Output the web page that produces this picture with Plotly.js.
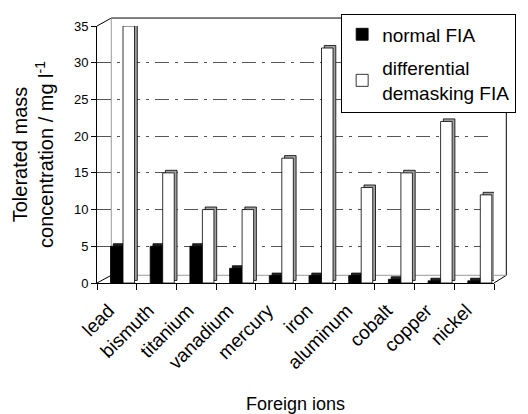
<!DOCTYPE html>
<html>
<head>
<meta charset="utf-8">
<script src="https://cdn.plot.ly/plotly-3.0.1.min.js"></script>
<style>html,body{margin:0;padding:0;background:#fff}#chart{width:528px;height:414px}</style>
</head>
<body>
<div id="chart"></div>
<script>
var ions = ["lead","bismuth","titanium","vanadium","mercury","iron","aluminum","cobalt","copper","nickel"];
var normalFIA = [5, 5, 5, 2, 1, 1, 1, 0.5, 0.3, 0.3];
var differentialFIA = [35, 15, 10, 10, 17, 32, 13, 15, 22, 12];
var yTicks = [0, 5, 10, 15, 20, 25, 30, 35];

var FONT = "Liberation Sans, Arial, sans-serif";
var depth = 0.35; // vertical 3D offset in data units

var traces = [
  {type:"bar", x:ions, y:normalFIA, base:depth, offset:-0.09, width:0.315,
   marker:{color:"#222", line:{color:"#000", width:0.8}}, showlegend:false, hoverinfo:"skip"},
  {type:"bar", name:"normal FIA", legendgroup:"a", x:ions, y:normalFIA, offset:-0.16, width:0.315,
   marker:{color:"#000", line:{color:"#000", width:0.8}}},
  {type:"bar", x:ions, y:differentialFIA, base:depth, offset:0.225, width:0.29,
   marker:{color:"#a0a0a0", line:{color:"#000", width:0.8}}, showlegend:false, hoverinfo:"skip"},
  {type:"bar", name:"differential<br>demasking FIA", legendgroup:"b", x:ions, y:differentialFIA, offset:0.155, width:0.29,
   marker:{color:"#fff", line:{color:"#000", width:0.8}}}
];

var L = {color:"#000", width:1};
var layout = {
  width:528, height:414,
  margin:{l:97, r:18, t:26, b:131},
  paper_bgcolor:"#fff", plot_bgcolor:"rgba(0,0,0,0)",
  barmode:"overlay",
  font:{family:FONT, color:"#000"},
  xaxis:{
    type:"category", range:[-0.5, 9.5],
    showline:true, linecolor:"#000", linewidth:1,
    ticks:"outside", ticklen:6, tickcolor:"#000", tickson:"boundaries",
    tickangle:-45, tickfont:{size:19, family:FONT},
    ticklabelstandoff:8, ticklabelshift:-8,
    showgrid:false, zeroline:false,
    title:{text:"Foreign ions", font:{size:18, family:FONT}, standoff:27}
  },
  yaxis:{
    range:[0, 35], tickvals:yTicks, ticktext:yTicks.map(String),
    showline:true, linecolor:"#000", linewidth:1,
    ticks:"outside", ticklen:5, tickcolor:"#000",
    tickfont:{size:13, family:FONT},
    showgrid:true, gridcolor:"#555", gridwidth:1, griddash:"14px,6px,3px,6px",
    zeroline:false,
    title:{text:"Tolerated mass<br>concentration / mg l<sup>-1</sup>", font:{size:20, family:FONT}, standoff:14}
  },
  legend:{
    x:0.615, y:1.045, xanchor:"left", yanchor:"top",
    bgcolor:"#fff", bordercolor:"#000", borderwidth:1,
    font:{size:19, family:FONT}, tracegroupgap:6, itemwidth:30
  },
  shapes:[
    {type:"line", xref:"paper", yref:"paper", x0:0, y0:1, x1:0.036, y1:1.031, line:L, layer:"below"},
    {type:"line", xref:"paper", yref:"paper", x0:0.036, y0:1.031, x1:1.031, y1:1.031, line:L, layer:"below"},
    {type:"line", xref:"paper", yref:"paper", x0:1.031, y0:1.031, x1:1.031, y1:0.03, line:L, layer:"below"},
    {type:"line", xref:"paper", yref:"paper", x0:1, y0:0, x1:1.031, y1:0.03, line:L, layer:"below"},
    {type:"line", xref:"paper", yref:"paper", x0:0.036, y0:0.03, x1:0.036, y1:1.031, line:{color:"#999", width:1}, layer:"below"},
    {type:"line", xref:"paper", yref:"paper", x0:0.036, y0:0.03, x1:1.031, y1:0.03, line:{color:"#999", width:1}, layer:"below"},
    {type:"line", xref:"paper", yref:"paper", x0:0, y0:0, x1:0.036, y1:0.03, line:L, layer:"below"}
  ]
};

Plotly.newPlot("chart", traces, layout, {displayModeBar:false, staticPlot:true});
</script>
</body>
</html>
